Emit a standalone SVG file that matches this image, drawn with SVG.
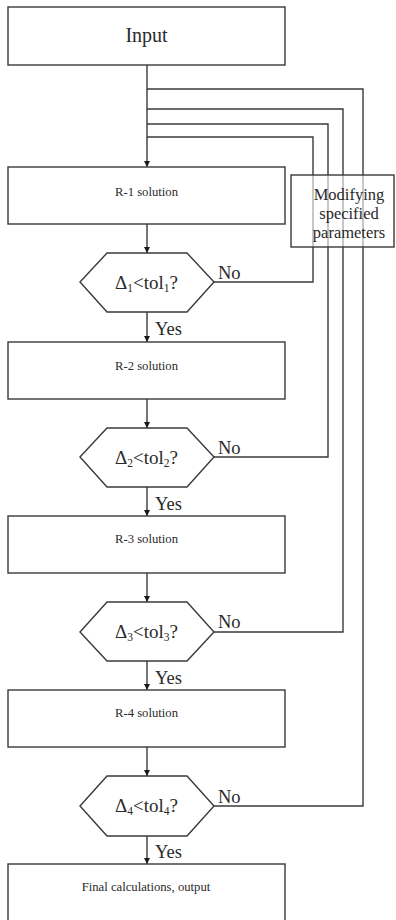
<svg xmlns="http://www.w3.org/2000/svg" width="396" height="920" viewBox="0 0 396 920">
<defs>
<style>
.box{fill:none;stroke:#3a3a3a;stroke-width:1.4}
.hex{fill:#fff;stroke:#3a3a3a;stroke-width:1.4}
.ln{fill:none;stroke:#3a3a3a;stroke-width:1.4}
text{font-family:"Liberation Serif","Times New Roman",serif;fill:#2a2a2a}
.big{font-size:20px;text-anchor:middle}
.sm{font-size:12.7px;text-anchor:middle}
.cond{font-size:19px;text-anchor:middle}
.lbl{font-size:18.5px}
.mod{font-size:16.5px;text-anchor:middle}
.sub{font-size:11.5px}
</style>
<marker id="ah" viewBox="0 0 10 10" refX="10" refY="5" markerWidth="6" markerHeight="6" markerUnits="userSpaceOnUse" orient="auto">
<path d="M0,0 L10,5 L0,10 Z" fill="#1a1a1a"/>
</marker>
</defs>
<rect width="396" height="920" fill="#fff"/>
<g id="connectors">
<path class="ln" d="M147,65 V167" marker-end="url(#ah)"/>
<path class="ln" d="M147,89 H363 V806 H214"/>
<path class="ln" d="M147,109 H343 V632 H214"/>
<path class="ln" d="M147,124 H328 V457 H214"/>
<path class="ln" d="M147,137 H313 V282 H214"/>
<path class="ln" d="M147,224 V253" marker-end="url(#ah)"/>
<path class="ln" d="M147,312 V342" marker-end="url(#ah)"/>
<path class="ln" d="M147,399 V428" marker-end="url(#ah)"/>
<path class="ln" d="M147,487 V516" marker-end="url(#ah)"/>
<path class="ln" d="M147,573 V602" marker-end="url(#ah)"/>
<path class="ln" d="M147,661 V690" marker-end="url(#ah)"/>
<path class="ln" d="M147,747 V776" marker-end="url(#ah)"/>
<path class="ln" d="M147,836 V864" marker-end="url(#ah)"/>
<text class="lbl" x="218" y="279">No</text>
<text class="lbl" x="218" y="454">No</text>
<text class="lbl" x="218" y="628">No</text>
<text class="lbl" x="218" y="803">No</text>
<text class="lbl" x="155" y="335">Yes</text>
<text class="lbl" x="155" y="510">Yes</text>
<text class="lbl" x="155" y="684">Yes</text>
<text class="lbl" x="155" y="858">Yes</text>
</g>
<g id="input">
<rect class="box" x="8" y="7" width="277" height="58"/>
<text class="big" x="146.5" y="42">Input</text>
</g>
<g id="modify">
<rect x="291" y="175" width="103" height="72" fill="#fff" fill-opacity="0.6" stroke="#3a3a3a" stroke-width="1.4"/>
<text class="mod" x="349" y="200">Modifying</text>
<text class="mod" x="349" y="219">specified</text>
<text class="mod" x="349" y="238">parameters</text>
</g>
<g id="r1">
<rect class="box" x="8" y="167" width="277" height="57"/>
<text class="sm" x="146.5" y="196">R-1 solution</text>
</g>
<g id="d1">
<polygon class="hex" points="80,282 107,253 187,253 214,282 187,312 107,312"/>
<text class="cond" x="146.5" y="289">Δ<tspan class="sub" dy="3">1</tspan><tspan dy="-3">&lt;tol</tspan><tspan class="sub" dy="3">1</tspan><tspan dy="-3">?</tspan></text>
</g>
<g id="r2">
<rect class="box" x="8" y="342" width="277" height="57"/>
<text class="sm" x="146.5" y="370">R-2 solution</text>
</g>
<g id="d2">
<polygon class="hex" points="80,457 107,428 187,428 214,457 187,487 107,487"/>
<text class="cond" x="146.5" y="464">Δ<tspan class="sub" dy="3">2</tspan><tspan dy="-3">&lt;tol</tspan><tspan class="sub" dy="3">2</tspan><tspan dy="-3">?</tspan></text>
</g>
<g id="r3">
<rect class="box" x="8" y="516" width="277" height="57"/>
<text class="sm" x="146.5" y="543">R-3 solution</text>
</g>
<g id="d3">
<polygon class="hex" points="80,632 107,602 187,602 214,632 187,661 107,661"/>
<text class="cond" x="146.5" y="638">Δ<tspan class="sub" dy="3">3</tspan><tspan dy="-3">&lt;tol</tspan><tspan class="sub" dy="3">3</tspan><tspan dy="-3">?</tspan></text>
</g>
<g id="r4">
<rect class="box" x="8" y="690" width="277" height="57"/>
<text class="sm" x="146.5" y="717">R-4 solution</text>
</g>
<g id="d4">
<polygon class="hex" points="80,806 107,776 187,776 214,806 187,836 107,836"/>
<text class="cond" x="146.5" y="812">Δ<tspan class="sub" dy="3">4</tspan><tspan dy="-3">&lt;tol</tspan><tspan class="sub" dy="3">4</tspan><tspan dy="-3">?</tspan></text>
</g>
<g id="final">
<rect class="box" x="8" y="864" width="277" height="62"/>
<text class="sm" x="146" y="891" font-size="13">Final calculations, output</text>
</g>
</svg>
